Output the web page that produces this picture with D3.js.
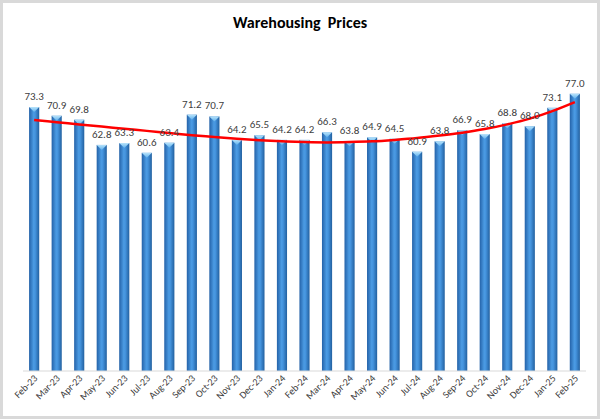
<!DOCTYPE html>
<html>
<head>
<meta charset="utf-8">
<script src="https://cdn.jsdelivr.net/npm/d3@7"></script>
<style>
  body { margin: 0; background: #fff; }
  svg text { font-family: Calibri, Carlito, Lato, "Open Sans", sans-serif; }
</style>
</head>
<body>
<script>
// Chart size
const w = 600;
const h = 419;

// Months on the x axis
const months = ["Feb-23", "Mar-23", "Apr-23", "May-23", "Jun-23", "Jul-23", "Aug-23", "Sep-23",
  "Oct-23", "Nov-23", "Dec-23", "Jan-24", "Feb-24", "Mar-24", "Apr-24", "May-24", "Jun-24",
  "Jul-24", "Aug-24", "Sep-24", "Oct-24", "Nov-24", "Dec-24", "Jan-25", "Feb-25"];

// Index values per month
const prices = [73.3, 70.9, 69.8, 62.8, 63.3, 60.6, 63.4, 71.2, 70.7, 64.2, 65.5, 64.2, 64.2,
  66.3, 63.8, 64.9, 64.5, 60.9, 63.8, 66.9, 65.8, 68.8, 68.0, 73.1, 77.0];

// Trendline
const trend = [69.7, 69.1, 68.5, 67.9, 67.3, 66.7, 66.1, 65.5, 65.0, 64.5, 64.1, 63.8, 63.6,
  63.5, 63.6, 63.8, 64.2, 64.7, 65.4, 66.2, 67.2, 68.5, 70.1, 72.2, 74.7];

// Plot area
const plotLeft = 23, plotRight = 586, plotBottom = 371, plotTop = 83;

const svg = d3.select("body").append("svg").attr("width", w).attr("height", h);

// Outer frame
svg.append("rect")
  .attr("x", 1.5).attr("y", 1.5)
  .attr("width", w - 3).attr("height", h - 3)
  .attr("fill", "#fff").attr("stroke", "#d9d9d9").attr("stroke-width", 3);

// Bar gradient (cylinder look)
const defs = svg.append("defs");
const grad = defs.append("linearGradient").attr("id", "barGrad")
  .attr("x1", "0%").attr("x2", "100%").attr("y1", "0%").attr("y2", "0%");
grad.append("stop").attr("offset", "0%").attr("stop-color", "#2462a8");
grad.append("stop").attr("offset", "45%").attr("stop-color", "#4b9be3");
grad.append("stop").attr("offset", "60%").attr("stop-color", "#4594de");
grad.append("stop").attr("offset", "100%").attr("stop-color", "#22609f");

const capGrad = defs.append("linearGradient").attr("id", "capGrad")
  .attr("x1", "0%").attr("x2", "0%").attr("y1", "0%").attr("y2", "100%");
capGrad.append("stop").attr("offset", "0%").attr("stop-color", "#b7e3fb");
capGrad.append("stop").attr("offset", "100%").attr("stop-color", "#5fb0ec");

// Scales
const xScale = d3.scaleBand().domain(months).range([plotLeft, plotRight]).paddingInner(0.55).paddingOuter(0.27);
const yScale = d3.scaleLinear().domain([0, 80]).range([plotBottom, plotTop]);

// Title
svg.append("text")
  .attr("x", 300).attr("y", 28)
  .attr("text-anchor", "middle")
  .attr("font-size", 16).attr("font-weight", "bold").attr("fill", "#000")
  .attr("xml:space", "preserve")
  .text("Warehousing  Prices");

// Bars
const bars = svg.selectAll(".bar").data(prices).enter().append("g").attr("class", "bar");
bars.append("rect")
  .attr("x", (d, i) => xScale(months[i]))
  .attr("y", d => yScale(d))
  .attr("width", xScale.bandwidth())
  .attr("height", d => plotBottom - yScale(d))
  .attr("fill", "url(#barGrad)");
bars.append("path")
  .attr("d", (d, i) => {
    const x0 = xScale(months[i]), bw = xScale.bandwidth(), y0 = yScale(d);
    return "M" + x0 + "," + y0 + "H" + (x0 + bw) + "L" + (x0 + bw / 2) + "," + (y0 + 5) + "Z";
  })
  .attr("fill", "url(#capGrad)");

// Axis line
svg.append("line")
  .attr("x1", plotLeft).attr("x2", plotRight)
  .attr("y1", plotBottom).attr("y2", plotBottom)
  .attr("stroke", "#d9d9d9").attr("stroke-width", 1);

// Trendline
const line = d3.line()
  .x((d, i) => xScale(months[i]) + xScale.bandwidth() / 2)
  .y(d => yScale(d))
  .curve(d3.curveCatmullRom);
svg.append("path")
  .datum(trend)
  .attr("d", line)
  .attr("fill", "none")
  .attr("stroke", "#ff0000")
  .attr("stroke-width", 2.5);

// Data labels
svg.selectAll(".lbl").data(prices).enter().append("text")
  .attr("class", "lbl")
  .attr("x", (d, i) => xScale(months[i]) + xScale.bandwidth() / 2)
  .attr("y", d => yScale(d) - 7)
  .attr("text-anchor", "middle")
  .attr("font-size", 11).attr("fill", "#404040")
  .text(d => d.toFixed(1));

// X axis labels, tilted
svg.selectAll(".xl").data(months).enter().append("text")
  .attr("class", "xl")
  .attr("transform", d => "translate(" + (xScale(d) + xScale.bandwidth() / 2 + 4) + "," + (plotBottom + 8) + ")rotate(-45)")
  .attr("text-anchor", "end")
  .attr("font-size", 10).attr("fill", "#404040")
  .text(d => d);
</script>
</body>
</html>
